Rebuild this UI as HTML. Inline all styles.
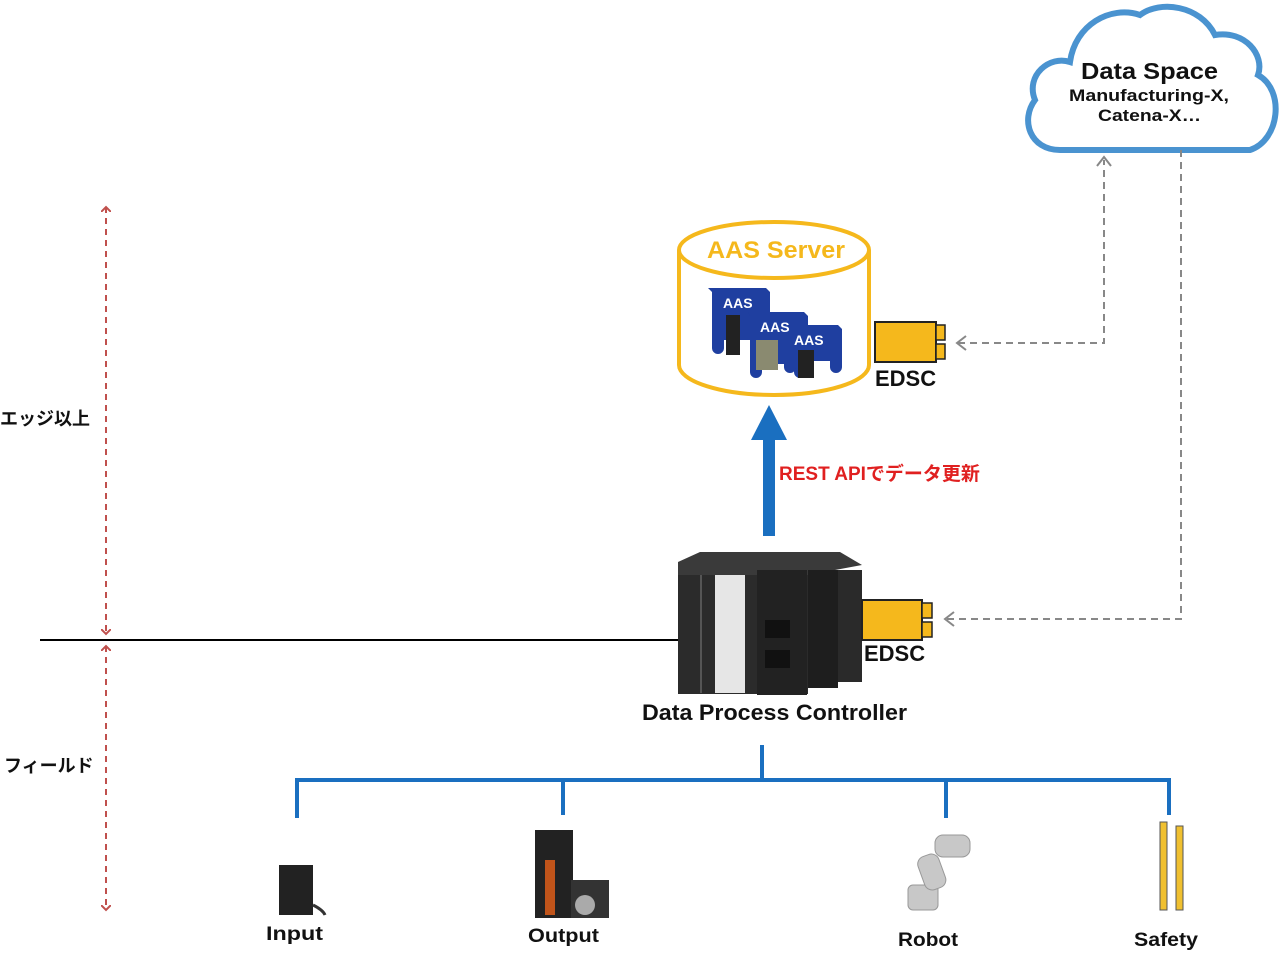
<!DOCTYPE html>
<html><head><meta charset="utf-8"><style>
html,body{margin:0;padding:0;background:#fff;width:1284px;height:954px;overflow:hidden}
text{font-family:"Liberation Sans","Noto Sans CJK JP",sans-serif;font-weight:bold}
</style></head><body>
<svg width="1284" height="954" viewBox="0 0 1284 954" xmlns="http://www.w3.org/2000/svg">
<defs>
<marker id="ra" markerWidth="10" markerHeight="10" refX="5" refY="5" orient="auto-start-reverse" markerUnits="userSpaceOnUse"><path d="M0,0 L5,5 L0,10" fill="none" stroke="#c0504d" stroke-width="2"/></marker>
</defs>
<!-- cloud -->
<path d="M1060,150 C1030,150 1020,120 1035,100 C1025,75 1050,55 1070,62 C1075,25 1110,5 1140,15 C1160,0 1200,5 1215,35 C1245,30 1265,55 1258,75 C1285,90 1280,140 1250,150 Z" fill="#fff" stroke="#4a93d0" stroke-width="6"/>
<text x="1081" y="79" font-size="23" textLength="137" lengthAdjust="spacingAndGlyphs" fill="#111">Data Space</text>
<text x="1069" y="101" font-size="17" textLength="160" lengthAdjust="spacingAndGlyphs" fill="#111">Manufacturing-X,</text>
<text x="1098" y="121" font-size="17" textLength="103" lengthAdjust="spacingAndGlyphs" fill="#111">Catena-X…</text>
<!-- red dashed arrows -->
<line x1="106" y1="207" x2="106" y2="634" stroke="#c0504d" stroke-width="2" stroke-dasharray="6,5" marker-start="url(#ra)" marker-end="url(#ra)"/>
<line x1="106" y1="646" x2="106" y2="910" stroke="#c0504d" stroke-width="2" stroke-dasharray="6,5" marker-start="url(#ra)" marker-end="url(#ra)"/>
<text x="0" y="425" font-size="18" fill="#111">エッジ以上</text>
<text x="4" y="772" font-size="18" fill="#111">フィールド</text>
<line x1="40" y1="640" x2="680" y2="640" stroke="#000" stroke-width="2"/>
<!-- cylinder -->
<path d="M679,250 L679,365 A95,30 0 0 0 869,365 L869,250" fill="#fff" stroke="#f5b81c" stroke-width="4"/>
<ellipse cx="774" cy="250" rx="95" ry="28" fill="#fff" stroke="#f5b81c" stroke-width="4"/>
<text x="707" y="258" font-size="24" textLength="138" lengthAdjust="spacingAndGlyphs" fill="#f5b81c">AAS Server</text>
<!-- AAS cards -->
<g fill="#1f3fa0">
<path d="M708,288 h58 l4,4 v30 l-2,4 v22 a6,6 0 0 1 -12,0 v-8 h-32 v8 a6,6 0 0 1 -12,0 v-56 z"/>
<path d="M748,312 h56 l4,4 v30 l-2,4 v22 a6,6 0 0 1 -12,0 v-8 h-32 v8 a6,6 0 0 1 -12,0 v-56 z"/>
<path d="M778,325 h60 l4,4 v38 a6,6 0 0 1 -12,0 v-6 h-34 v6 a6,6 0 0 1 -12,0 v-38 z"/>
</g>
<text x="723" y="308" font-size="14" fill="#fff">AAS</text>
<text x="760" y="332" font-size="14" fill="#fff">AAS</text>
<text x="794" y="345" font-size="14" fill="#fff">AAS</text>
<rect x="726" y="315" width="14" height="40" fill="#222"/>
<rect x="756" y="340" width="22" height="30" fill="#8a8a70"/>
<rect x="798" y="350" width="16" height="28" fill="#222"/>
<!-- EDSC 1 -->
<rect x="875" y="322" width="61" height="40" fill="#f5b81c" stroke="#222" stroke-width="2"/>
<rect x="936" y="325" width="9" height="15" fill="#f5b81c" stroke="#222" stroke-width="1.5"/>
<rect x="936" y="344" width="9" height="15" fill="#f5b81c" stroke="#222" stroke-width="1.5"/>
<text x="875" y="386" font-size="22" fill="#111">EDSC</text>
<!-- gray dashed -->
<g stroke="#888" stroke-width="2" fill="none">
<polyline points="958,343 1104,343 1104,160" stroke-dasharray="7,5"/>
<polyline points="1181,150 1181,619 946,619" stroke-dasharray="7,5"/>
<polyline points="966,336 957,343 966,350"/>
<polyline points="1097,166 1104,157 1111,166"/>
<polyline points="954,612 945,619 954,626"/>
</g>
<!-- blue arrow -->
<rect x="763" y="438" width="12" height="98" fill="#1a6fc0"/>
<polygon points="769,405 751,440 787,440" fill="#1a6fc0"/>
<text x="779" y="480" font-size="19" fill="#e02020">REST APIでデータ更新</text>
<!-- controller -->
<rect x="678" y="562" width="130" height="132" fill="#2b2b2b"/>
<polygon points="678,562 700,552 840,552 862,565 808,575 678,575" fill="#3a3a3a"/>
<rect x="715" y="575" width="30" height="118" fill="#e6e6e6"/>
<rect x="757" y="570" width="50" height="125" fill="#222"/>
<rect x="808" y="570" width="30" height="118" fill="#1e1e1e"/>
<rect x="838" y="570" width="24" height="112" fill="#2a2a2a"/>
<rect x="700" y="575" width="2" height="118" fill="#555"/>
<rect x="765" y="620" width="25" height="18" fill="#111"/>
<rect x="765" y="650" width="25" height="18" fill="#111"/>
<!-- EDSC 2 -->
<rect x="862" y="600" width="60" height="40" fill="#f5b81c" stroke="#222" stroke-width="2"/>
<rect x="922" y="603" width="10" height="15" fill="#f5b81c" stroke="#222" stroke-width="1.5"/>
<rect x="922" y="622" width="10" height="15" fill="#f5b81c" stroke="#222" stroke-width="1.5"/>
<text x="864" y="661" font-size="22" fill="#111">EDSC</text>
<text x="642" y="720" font-size="22" textLength="265" lengthAdjust="spacingAndGlyphs" fill="#111">Data Process Controller</text>
<!-- bus -->
<g stroke="#1a6fc0" stroke-width="4" fill="none">
<line x1="762" y1="745" x2="762" y2="780"/>
<line x1="297" y1="780" x2="1171" y2="780"/>
<line x1="297" y1="778" x2="297" y2="818"/>
<line x1="563" y1="778" x2="563" y2="815"/>
<line x1="946" y1="778" x2="946" y2="818"/>
<line x1="1169" y1="778" x2="1169" y2="815"/>
</g>
<!-- devices -->
<rect x="279" y="865" width="34" height="50" fill="#222"/>
<path d="M313,905 q10,5 12,10" stroke="#333" stroke-width="3" fill="none"/>
<rect x="535" y="830" width="38" height="88" fill="#222"/>
<rect x="545" y="860" width="10" height="55" fill="#c0541a"/>
<rect x="571" y="880" width="38" height="38" fill="#333"/>
<circle cx="585" cy="905" r="10" fill="#aaa"/>
<g fill="#c8c8c8" stroke="#999">
<rect x="908" y="885" width="30" height="25" rx="5"/>
<rect x="920" y="855" width="22" height="35" rx="8" transform="rotate(-20 930 870)"/>
<rect x="935" y="835" width="35" height="22" rx="8"/>
</g>
<rect x="1160" y="822" width="7" height="88" fill="#f0c030" stroke="#555"/>
<rect x="1176" y="826" width="7" height="84" fill="#f0c030" stroke="#555"/>
<text x="266" y="940" font-size="19" textLength="57" lengthAdjust="spacingAndGlyphs" fill="#111">Input</text>
<text x="528" y="942" font-size="19" textLength="71" lengthAdjust="spacingAndGlyphs" fill="#111">Output</text>
<text x="898" y="946" font-size="19" textLength="60" lengthAdjust="spacingAndGlyphs" fill="#111">Robot</text>
<text x="1134" y="946" font-size="19" textLength="64" lengthAdjust="spacingAndGlyphs" fill="#111">Safety</text>
</svg>
</body></html>
